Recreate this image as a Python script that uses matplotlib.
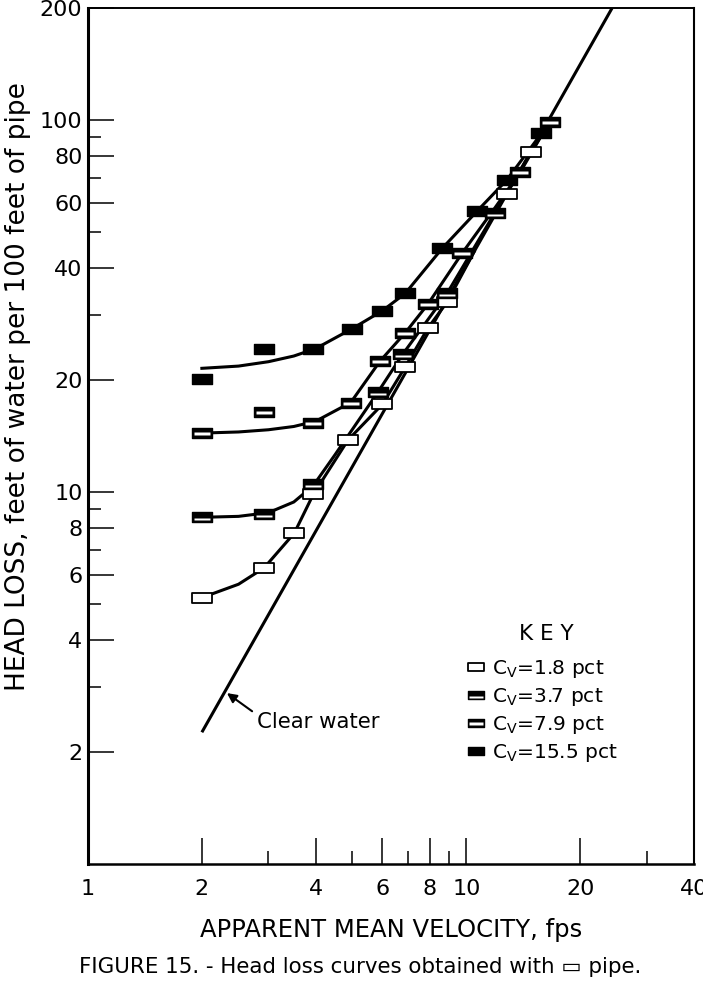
import matplotlib
matplotlib.use("Agg")
import matplotlib.pyplot as plt
from matplotlib.path import Path
from matplotlib.lines import Line2D
from matplotlib.ticker import NullFormatter

plt.rcParams['font.family'] = ['DejaVu Sans']

# --- measured points (velocity fps, head loss ft/100 ft) ---
cv18_x = [2.0, 2.92, 3.51, 3.94, 4.87, 6.0, 6.9, 7.92, 8.9, 12.8, 14.8]
cv18_y = [5.2, 6.25, 7.75, 9.85, 13.8, 17.2, 21.7, 27.6, 32.4, 63.3, 82.0]
cv37_x = [2.0, 2.92, 3.94, 5.85, 6.8, 8.9, 11.9]
cv37_y = [8.55, 8.75, 10.5, 18.6, 23.5, 34.2, 56.3]
cv79_x = [2.0, 2.92, 3.94, 4.95, 5.92, 6.9, 7.92, 9.76, 13.9, 16.6]
cv79_y = [14.4, 16.4, 15.3, 17.4, 22.5, 26.8, 32.0, 43.9, 72.5, 99.0]
cv155_x = [2.0, 2.92, 3.94, 4.99, 6.0, 6.9, 8.64, 10.7, 12.8, 15.8]
cv155_y = [20.1, 24.3, 24.2, 27.5, 30.7, 34.2, 45.2, 57.0, 69.0, 92.0]

# --- hand drawn curves ---
c18_x = [2.0, 2.5, 2.92, 3.51, 3.94, 4.87, 6.0, 6.9, 7.92, 8.9, 10.5]
c18_y = [5.2, 5.65, 6.25, 7.75, 9.85, 13.8, 17.2, 21.7, 27.6, 32.4, 44.3]
c37_x = [2.0, 2.5, 3.0, 3.5, 3.94, 4.5, 5.85, 6.8, 8.9, 11.9, 16.6]
c37_y = [8.55, 8.6, 8.8, 9.4, 10.4, 12.6, 18.6, 23.5, 34.2, 56.3, 99.0]
c79_x = [2.0, 2.5, 3.0, 3.5, 4.0, 4.95, 5.92, 6.9, 7.92, 9.76, 11.9, 13.9, 16.6]
c79_y = [14.4, 14.5, 14.7, 15.0, 15.5, 17.4, 22.5, 26.8, 32.0, 43.9, 58.0, 72.5, 99.0]
c155_x = [2.0, 2.5, 3.0, 3.5, 4.0, 5.0, 6.0, 6.9, 8.64, 10.7, 12.8, 15.8, 16.6]
c155_y = [21.5, 21.8, 22.4, 23.2, 24.3, 27.5, 30.7, 34.2, 45.2, 57.0, 69.0, 92.0, 99.0]
clear_x = [2.0, 24.3]
clear_y = [2.26, 200.0]

labels = ['C$_\\mathregular{V}$=1.8 pct', 'C$_\\mathregular{V}$=3.7 pct',
          'C$_\\mathregular{V}$=7.9 pct', 'C$_\\mathregular{V}$=15.5 pct']

xticks = [1, 2, 4, 6, 8, 10, 20, 40]
yticks = [2, 4, 6, 8, 10, 20, 40, 60, 80, 100, 200]

# rectangle marker and stripe markers (stray moveto points keep the same scale)
M, L, C = Path.MOVETO, Path.LINETO, Path.CLOSEPOLY
rect = Path([(-1, -0.5), (1, -0.5), (1, 0.5), (-1, 0.5), (-1, -0.5)], [M, L, L, L, C])


def stripe(y0, y1, w=0.78):
    return Path([(-1, -0.5), (1, 0.5), (-w, y0), (w, y0), (w, y1), (-w, y1), (-w, y0)],
                [M, M, M, L, L, L, C])


stripe37 = stripe(-0.32, -0.08)
stripe79 = stripe(-0.22, 0.12)

fig = plt.figure(figsize=(7.03, 9.89), dpi=100)
ax = fig.add_axes([88 / 703, 125 / 989, 606 / 703, 856 / 989])
ax.set_xscale('log')
ax.set_yscale('log')

lw = 2.2
ax.plot(clear_x, clear_y, color='black', lw=lw, solid_capstyle='butt')
for cx, cy in [(c18_x, c18_y), (c37_x, c37_y), (c79_x, c79_y), (c155_x, c155_y)]:
    ax.plot(cx, cy, color='black', lw=lw)

ms = 15
ax.plot(cv18_x, cv18_y, ls='none', marker=rect, ms=ms, mfc='white', mec='black', mew=1.3, zorder=5)
ax.plot(cv37_x, cv37_y, ls='none', marker=rect, ms=ms, mfc='black', mec='black', mew=1.0, zorder=5)
ax.plot(cv37_x, cv37_y, ls='none', marker=stripe37, ms=ms, mfc='white', mec='none', zorder=6)
ax.plot(cv79_x, cv79_y, ls='none', marker=rect, ms=ms, mfc='black', mec='black', mew=1.0, zorder=5)
ax.plot(cv79_x, cv79_y, ls='none', marker=stripe79, ms=ms, mfc='white', mec='none', zorder=6)
ax.plot(cv155_x, cv155_y, ls='none', marker=rect, ms=ms, mfc='black', mec='black', mew=1.0, zorder=5)

ax.set_xlim(1, 40)
ax.set_ylim(1, 200)
ax.set_xticks(xticks, [str(t) for t in xticks])
ax.set_yticks(yticks, [str(t) for t in yticks])
ax.set_xticks([3, 5, 7, 9, 30], minor=True)
ax.set_yticks([3, 5, 7, 9, 30, 50, 70, 90], minor=True)
ax.xaxis.set_minor_formatter(NullFormatter())
ax.yaxis.set_minor_formatter(NullFormatter())
ax.tick_params(which='both', direction='in', width=1.1, labelsize=16)
ax.tick_params(which='major', length=18.5)
ax.tick_params(which='minor', length=9.5)
ax.tick_params(axis='x', which='major', pad=11)
ax.tick_params(axis='y', which='major', pad=4)
ax.spines['left'].set_linewidth(2.2)
ax.spines['bottom'].set_linewidth(1.8)
ax.spines['right'].set_linewidth(1.5)
ax.spines['top'].set_linewidth(1.4)

ax.annotate('Clear water', xy=(2.33, 2.88), xytext=(2.80, 2.41),
            fontsize=15.3, ha='left', va='center',
            arrowprops=dict(arrowstyle='-|>', color='black', lw=1.5,
                            mutation_scale=14, shrinkA=2, shrinkB=0,
                            relpos=(0.0, 0.85)))

# key
lms = 12
h18 = Line2D([], [], ls='none', marker=rect, ms=lms, mfc='white', mec='black', mew=1.3)
h37 = (Line2D([], [], ls='none', marker=rect, ms=lms, mfc='black', mec='black'),
       Line2D([], [], ls='none', marker=stripe37, ms=lms, mfc='white', mec='none'))
h79 = (Line2D([], [], ls='none', marker=rect, ms=lms, mfc='black', mec='black'),
       Line2D([], [], ls='none', marker=stripe79, ms=lms, mfc='white', mec='none'))
h155 = Line2D([], [], ls='none', marker=rect, ms=lms, mfc='black', mec='black')
ax.legend([h18, h37, h79, h155], labels, loc='upper left',
          bbox_to_anchor=(456 / 703, 1 - 648 / 989), bbox_transform=fig.transFigure,
          frameon=False, fontsize=14.5, handlelength=1.0,
          handletextpad=0.3, labelspacing=0.3, borderpad=0)
fig.text(546 / 703, 1 - 634 / 989, 'K E Y', ha='center', va='center', fontsize=15.5)

ax.set_xlabel('APPARENT MEAN VELOCITY, fps', fontsize=17.5)
ax.xaxis.set_label_coords(0.5, -(918 - 864) / 856)
fig.text(18 / 703, 1 - 387 / 989, 'HEAD LOSS, feet of water per 100 feet of pipe',
         rotation=90, ha='center', va='center', fontsize=19)
fig.text(360 / 703, 1 - 967 / 989, 'FIGURE 15. - Head loss curves obtained with \u25ad pipe.',
         ha='center', va='center', fontsize=15.4)

fig.savefig('out.png', dpi=100)
